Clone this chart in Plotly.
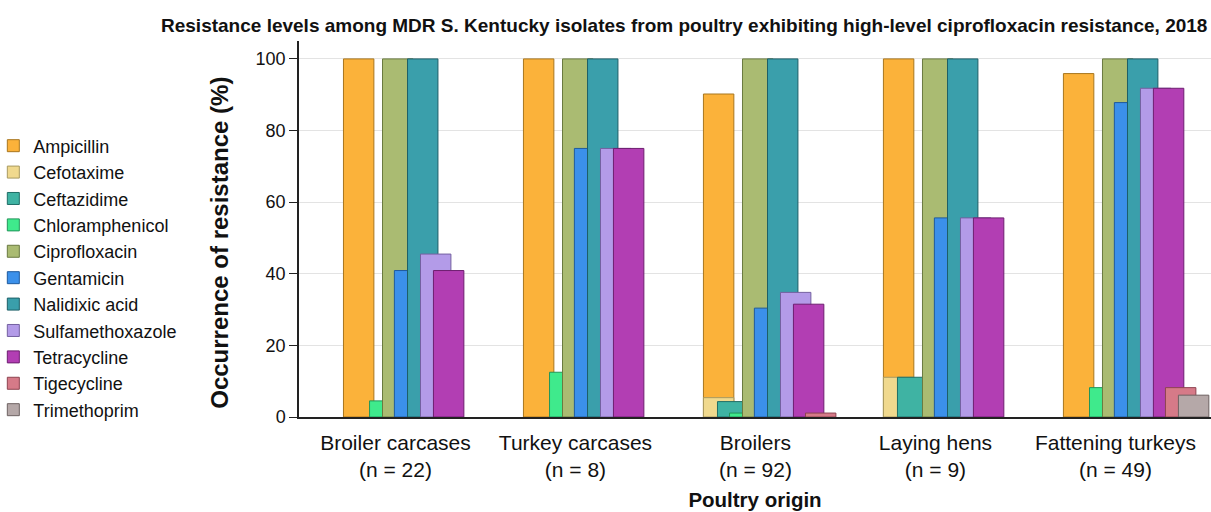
import plotly.graph_objects as go

categories = ["Broiler carcases<br>(n = 22)", "Turkey carcases<br>(n = 8)", "Broilers<br>(n = 92)",
              "Laying hens<br>(n = 9)", "Fattening turkeys<br>(n = 49)"]

ampicillin = [100, 100, 90.2, 100, 95.9]
cefotaxime = [0, 0, 5.4, 11.1, 0]
ceftazidime = [0, 0, 4.3, 11.1, 0]
chloramphenicol = [4.5, 12.5, 1.1, 0, 8.2]
ciprofloxacin = [100, 100, 100, 100, 100]
gentamicin = [40.9, 75, 30.4, 55.6, 87.8]
nalidixic_acid = [100, 100, 100, 100, 100]
sulfamethoxazole = [45.5, 75, 34.8, 55.6, 91.8]
tetracycline = [40.9, 75, 31.5, 55.6, 91.8]
tigecycline = [0, 0, 1.1, 0, 8.2]
trimethoprim = [0, 0, 0, 0, 6.1]

series_names = ["Ampicillin", "Cefotaxime", "Ceftazidime", "Chloramphenicol", "Ciprofloxacin",
                "Gentamicin", "Nalidixic acid", "Sulfamethoxazole", "Tetracycline", "Tigecycline",
                "Trimethoprim"]
series_values = [ampicillin, cefotaxime, ceftazidime, chloramphenicol, ciprofloxacin, gentamicin,
                 nalidixic_acid, sulfamethoxazole, tetracycline, tigecycline, trimethoprim]

# styles (kept separate from data)
fills = ["#FBB23A", "#F0D98E", "#3FB3A3", "#3FEA8C", "#AABB72", "#3B90EA",
         "#3A9FAB", "#B39BE8", "#B23EB3", "#D67A88", "#B5A8A8"]
edges = ["#A8761E", "#A89A60", "#1F6E66", "#22955A", "#6A7A40", "#1E5A9E",
         "#1D5F68", "#7460A0", "#6E1E70", "#8E4450", "#6E6262"]
offsets = [-0.289, -0.289, -0.211, -0.144, -0.072, -0.006, 0.067, 0.139, 0.211, 0.278, 0.350]
bar_width = 0.169

fig = go.Figure()
for name, vals, fc, ec, off in zip(series_names, series_values, fills, edges, offsets):
    shown = [v if v > 0 else None for v in vals]  # zero-height bars are not drawn
    fig.add_trace(go.Bar(
        x=categories, y=shown, name=name,
        marker=dict(color=fc, line=dict(color=ec, width=1)),
        offset=off, width=bar_width,
    ))

fig.update_layout(
    width=1211, height=512,
    margin=dict(l=299, r=0, t=41, b=95),
    barmode="overlay",
    plot_bgcolor="white", paper_bgcolor="white",
    font=dict(family="Liberation Sans, Arial, sans-serif", color="#111111"),
    title=dict(
        text="<b>Resistance levels among MDR S. Kentucky isolates from poultry exhibiting high-level ciprofloxacin resistance, 2018</b>",
        font=dict(size=19, color="#111111"),
        xref="container", x=0.565, xanchor="center",
        yref="container", y=0.951, yanchor="middle",
    ),
    legend=dict(
        x=-0.3275, xanchor="left", y=0.77, yanchor="top",
        font=dict(size=18, color="#111111"),
        bgcolor="rgba(0,0,0,0)", indentation=-7,
    ),
    showlegend=True,
    annotations=[dict(
        text="<b>Occurrence of resistance (%)</b>", textangle=-90,
        xref="paper", yref="paper", x=-0.0866, y=0.4635,
        xanchor="center", yanchor="middle", showarrow=False,
        font=dict(size=24, color="#111111"),
    )],
)

fig.update_xaxes(
    type="category", range=[-0.536, 4.531], automargin=False,
    showline=True, linecolor="#222222", linewidth=1.5,
    ticks="", tickfont=dict(size=21, color="#111111"), ticklabelstandoff=6,
    title=dict(text="<b>Poultry origin</b>", font=dict(size=20.5, color="#111111"), standoff=12),
    showgrid=False,
)
fig.update_yaxes(
    range=[0, 105], tickvals=[0, 20, 40, 60, 80, 100], automargin=False,
    showline=True, linecolor="#222222", linewidth=1.5,
    ticks="outside", ticklen=8, tickcolor="#222222",
    tickfont=dict(size=18, color="#111111"),
    showgrid=True, gridcolor="#E3E3E3", gridwidth=1,
    zeroline=False,
)

fig.write_html("out.html", config={"displayModeBar": False},
               post_script="document.body.style.margin='0';")
